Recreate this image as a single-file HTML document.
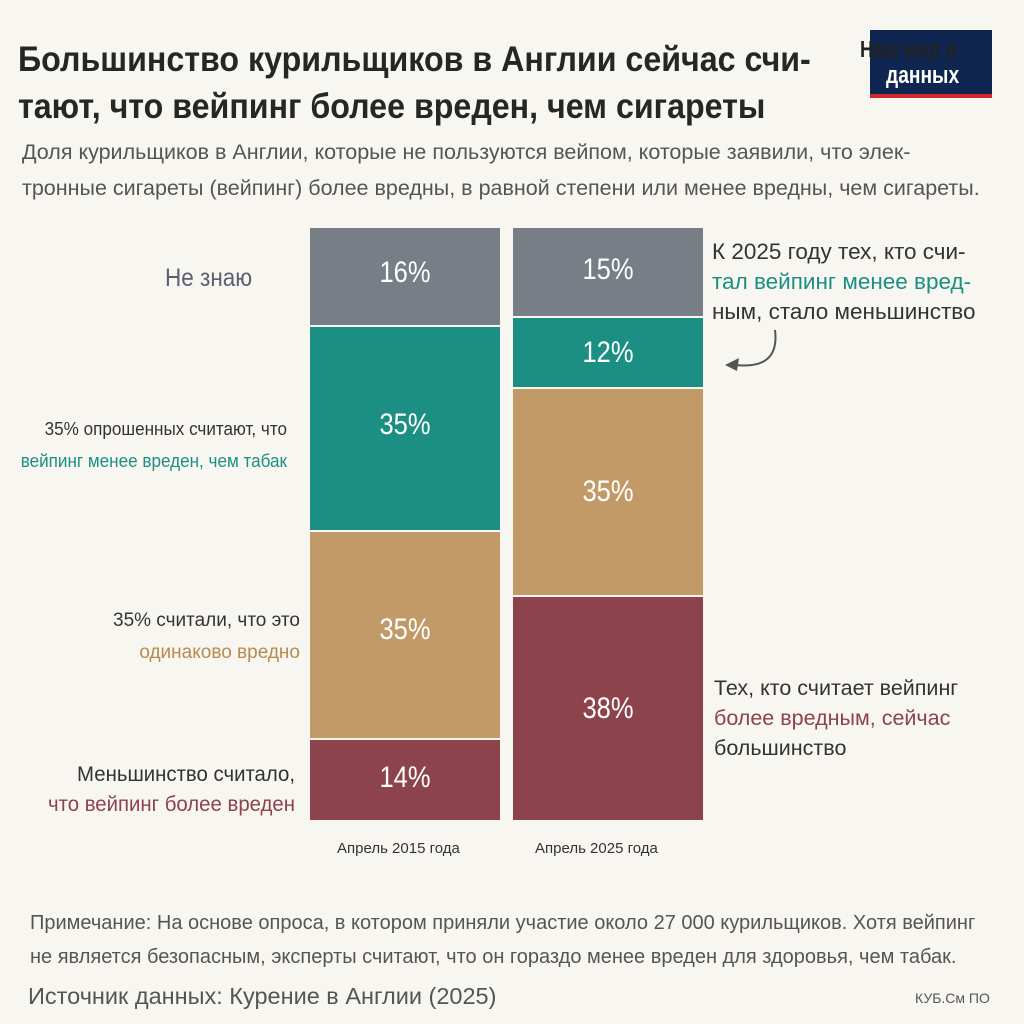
<!DOCTYPE html>
<html><head><meta charset="utf-8"><style>
body{margin:0;width:1024px;height:1024px;background:#f8f6f0;font-family:"Liberation Sans","DejaVu Sans",sans-serif;position:relative;overflow:hidden;color:#333}
.a{position:absolute;white-space:nowrap}
.s{position:absolute;color:#fff;font-size:30px;display:flex;align-items:center;justify-content:center;transform:scaleX(.85)}
.seg{position:absolute}
</style></head><body>
<div class="a" style="left:18px;top:36px;font-size:35px;font-weight:bold;color:#262626;line-height:47px;transform:scaleX(.92);transform-origin:left">Большинство курильщиков в Англии сейчас счи-<br>тают, что вейпинг более вреден, чем сигареты</div>
<div class="a" style="left:870px;top:30px;width:122px;height:64px;background:#0f2650"></div>
<div class="a" style="left:870px;top:94px;width:122px;height:4px;background:#d3262a"></div>
<div class="a" style="left:860px;top:36px;font-size:23px;font-weight:bold;color:#222;transform:scaleX(.8);transform-origin:left">Наш мир в</div>
<div class="a" style="left:886px;top:62px;font-size:24px;font-weight:bold;color:#fff;transform:scaleX(.8);transform-origin:left">данных</div>
<div class="a" style="left:22px;top:134px;font-size:21.5px;color:#555;line-height:36px">Доля курильщиков в Англии, которые не пользуются вейпом, которые заявили, что элек-<br>тронные сигареты (вейпинг) более вредны, в равной степени или менее вредны, чем сигареты.</div>

<div class="seg" style="left:310px;top:228px;width:190px;height:97px;background:#787e86"></div>
<div class="seg" style="left:310px;top:327px;width:190px;height:203px;background:#1b8f83"></div>
<div class="seg" style="left:310px;top:532px;width:190px;height:206px;background:#c19a68"></div>
<div class="seg" style="left:310px;top:740px;width:190px;height:80px;background:#8d434b"></div>
<div class="seg" style="left:513px;top:228px;width:190px;height:88px;background:#787e86"></div>
<div class="seg" style="left:513px;top:318px;width:190px;height:69px;background:#1b8f83"></div>
<div class="seg" style="left:513px;top:389px;width:190px;height:206px;background:#c19a68"></div>
<div class="seg" style="left:513px;top:597px;width:190px;height:223px;background:#8d434b"></div>

<div class="s" style="left:310px;top:228px;width:190px;height:90px">16%</div>
<div class="s" style="left:310px;top:327px;width:190px;height:196px">35%</div>
<div class="s" style="left:310px;top:532px;width:190px;height:196px">35%</div>
<div class="s" style="left:310px;top:740px;width:190px;height:76px">14%</div>
<div class="s" style="left:513px;top:228px;width:190px;height:84px">15%</div>
<div class="s" style="left:513px;top:318px;width:190px;height:69px">12%</div>
<div class="s" style="left:513px;top:389px;width:190px;height:206px">35%</div>
<div class="s" style="left:513px;top:597px;width:190px;height:223px">38%</div>

<div class="a" style="left:165px;top:264px;font-size:25px;color:#5a6070;transform:scaleX(.9);transform-origin:left">Не знаю</div>
<div class="a" style="left:2px;top:413px;font-size:18px;color:#333;line-height:32px;text-align:right;width:285px;transform:scaleX(.95);transform-origin:right">35% опрошенных считают, что<br><span style="color:#1b8f83">вейпинг менее вреден, чем табак</span></div>
<div class="a" style="left:20px;top:605px;font-size:19px;color:#333;line-height:32px;text-align:right;width:280px">35% считали, что это<br><span style="color:#b98a4e">одинаково вредно</span></div>
<div class="a" style="left:0px;top:760px;font-size:21px;color:#333;line-height:30px;text-align:right;width:295px;transform:scaleX(.97);transform-origin:right">Меньшинство считало,<br><span style="color:#8d434b">что вейпинг более вреден</span></div>
<div class="a" style="left:712px;top:237px;font-size:22.5px;color:#333;line-height:30px">К 2025 году тех, кто счи-<br><span style="color:#1b8f83">тал вейпинг менее вред-</span><br>ным, стало меньшинство</div>
<svg class="a" style="left:715px;top:325px" width="70" height="50"><path d="M60 5 Q65 45 20 40" fill="none" stroke="#555" stroke-width="2"/><path d="M10 40 L24 33 L22 46 Z" fill="#555"/></svg>
<div class="a" style="left:714px;top:673px;font-size:21.5px;color:#333;line-height:30px">Тех, кто считает вейпинг<br><span style="color:#8d434b">более вредным, сейчас</span><br>большинство</div>
<div class="a" style="left:337px;top:840px;font-size:15px;color:#333">Апрель 2015 года</div>
<div class="a" style="left:535px;top:840px;font-size:15px;color:#333">Апрель 2025 года</div>
<div class="a" style="left:30px;top:906px;font-size:20px;color:#555;line-height:34px">Примечание: На основе опроса, в котором приняли участие около 27 000 курильщиков. Хотя вейпинг<br>не является безопасным, эксперты считают, что он гораздо менее вреден для здоровья, чем табак.</div>
<div class="a" style="left:28px;top:983px;font-size:23.5px;color:#555">Источник данных: Курение в Англии (2025)</div>
<div class="a" style="left:915px;top:990px;font-size:14px;color:#555">КУБ.См ПО</div>
</body></html>
